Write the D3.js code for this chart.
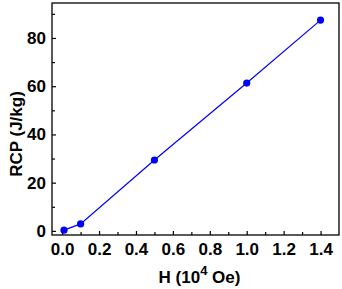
<!DOCTYPE html>
<html>
<head>
<meta charset="utf-8">
<script src="https://cdn.jsdelivr.net/npm/d3@7"></script>
<style>
  body { margin: 0; background: #fff; }
  text { font-family: "Liberation Sans", Arial, sans-serif; font-weight: bold; }
</style>
</head>
<body>
<div id="chart"></div>
<script>
// data
var fieldH = [0.01, 0.1, 0.5, 1.0, 1.4];
var rcp = [0.3, 2.9, 29.4, 61.3, 87.4];
var xTicks = [0.0, 0.2, 0.4, 0.6, 0.8, 1.0, 1.2, 1.4];
var yTicks = [0, 20, 40, 60, 80];

var W = 342, H = 289;
var margin = {top: 3, right: 3, bottom: 54, left: 52},
    width = W - margin.left - margin.right,
    height = H - margin.top - margin.bottom;

var svg = d3.select("#chart").append("svg")
    .attr("width", W).attr("height", H)
    .append("g")
    .attr("transform", "translate(" + margin.left + "," + margin.top + ")");

var x = d3.scaleLinear().domain([-0.055, 1.5]).range([0, width]);
var y = d3.scaleLinear().domain([-1.7, 94.5]).range([height, 0]);

// minor ticks
var xMinor = [0.1, 0.3, 0.5, 0.7, 0.9, 1.1, 1.3];
var yMinor = [10, 30, 50, 70, 90];

var xAxis = svg.append("g")
    .attr("transform", "translate(0," + height + ")")
    .call(d3.axisBottom(x).tickValues(xTicks).tickSize(-4).tickSizeOuter(0)
      .tickPadding(8).tickFormat(d3.format(".1f")));
xAxis.selectAll("text").style("font-size", "17px").attr("fill", "#000");
xAxis.select(".domain").remove();

svg.append("g")
    .attr("transform", "translate(0," + height + ")")
    .call(d3.axisBottom(x).tickValues(xMinor).tickSize(-3).tickFormat(""))
    .select(".domain").remove();

var yAxis = svg.append("g")
    .call(d3.axisLeft(y).tickValues(yTicks).tickSize(-4).tickSizeOuter(0).tickPadding(6));
yAxis.selectAll("text").style("font-size", "17px").attr("fill", "#000");
yAxis.select(".domain").remove();

svg.append("g")
    .call(d3.axisLeft(y).tickValues(yMinor).tickSize(-3).tickFormat(""))
    .select(".domain").remove();

svg.selectAll(".tick line").attr("stroke", "#000").attr("stroke-width", 1.2);

// frame
svg.append("rect")
    .attr("x", 0).attr("y", 0)
    .attr("width", width).attr("height", height)
    .attr("fill", "none").attr("stroke", "#000").attr("stroke-width", 1.3);

var pts = fieldH.map(function(h, i){ return {h: h, v: rcp[i]}; });

svg.append("path")
    .datum(pts)
    .attr("fill", "none")
    .attr("stroke", "#0000ff")
    .attr("stroke-width", 1.2)
    .attr("d", d3.line().x(function(d){ return x(d.h); }).y(function(d){ return y(d.v); }));

svg.selectAll("circle.pt")
    .data(pts)
    .enter().append("circle")
    .attr("class", "pt")
    .attr("cx", function(d){ return x(d.h); })
    .attr("cy", function(d){ return y(d.v); })
    .attr("r", 3.6)
    .attr("fill", "#0000ff");

// axis titles
var xt = svg.append("text")
    .attr("x", width / 2 + 4)
    .attr("y", height + 48)
    .attr("text-anchor", "middle")
    .style("font-size", "17px");
xt.append("tspan").text("H (10");
xt.append("tspan").attr("dy", -8).style("font-size", "13px").text("4");
xt.append("tspan").attr("dy", 8).text(" Oe)");

svg.append("text")
    .attr("transform", "translate(-30,131) rotate(-90)")
    .attr("text-anchor", "middle")
    .style("font-size", "17px")
    .text("RCP (J/kg)");
</script>
</body>
</html>
